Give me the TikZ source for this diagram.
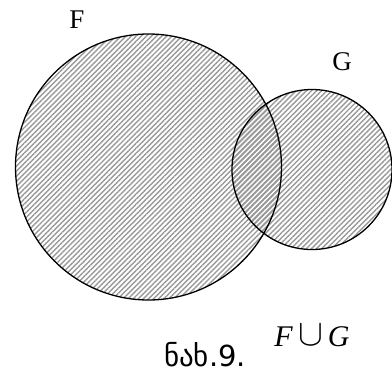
\documentclass[tikz,border=0pt]{standalone}
\usepackage{fontspec}
\setmainfont{Liberation Serif}
\newfontfamily\geofont{DejaVu Sans}
\usetikzlibrary{patterns.meta}
\begin{document}
\begin{tikzpicture}[x=1pt,y=-1pt,
  setcircle/.style={draw=black,line width=1.3pt},
  lbl/.style={inner sep=0pt,font=\fontsize{27}{29}\selectfont}]
\useasboundingbox (0,0) rectangle (392,376);
\fill[pattern={Lines[angle=45,distance=3.6pt,line width=1.4pt]},pattern color=gray!80] (148.5,167) circle (133);
\fill[pattern={Lines[angle=45,distance=3.6pt,line width=1.4pt,xshift=0.8pt]},pattern color=gray!80] (312,169.5) circle (80);
\node[setcircle,circle,minimum size=266pt,inner sep=0pt] (F) at (148.5,167) {};
\node[setcircle,circle,minimum size=160pt,inner sep=0pt] (G) at (312,169.5) {};
\node[lbl] (fl) at (77,20) {F};
\node[lbl] (gl) at (342,62) {G};
\node[inner sep=0pt,font=\fontsize{30}{32}\selectfont] (un) at (312,336) {\textit{F}\,\raisebox{0.5pt}{\scalebox{1.5}{$\cup$}}\,\textit{G}};
\node[inner sep=0pt,font=\geofont\fontsize{29}{31}\selectfont] (cap) at (205,355) {ნახ.9.};
\end{tikzpicture}
\end{document}
